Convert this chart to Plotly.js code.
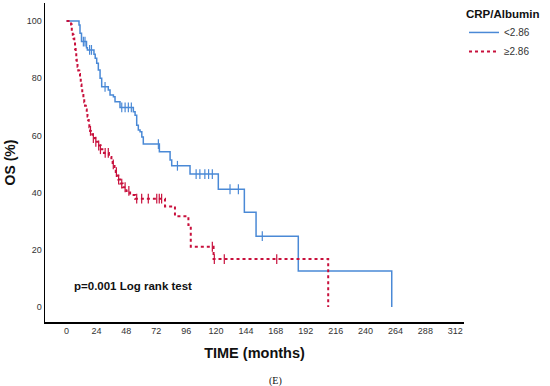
<!DOCTYPE html>
<html>
<head>
<meta charset="utf-8">
<script src="https://cdn.plot.ly/plotly-3.0.1.min.js"></script>
<style>html,body{margin:0;padding:0;background:#fff;}#chart{width:550px;height:386px;}</style>
</head>
<body>
<div id="chart"></div>
<script>
// Kaplan-Meier steps, low CRP/Albumin (<2.86)
var lowTime = [0, 10, 10.8, 12, 16, 16.7, 22, 23, 24.2, 25.5, 26.9, 28.2, 33.5, 34.9, 37.6, 38.9, 42.9, 53.6, 55, 56.3, 57.6, 59, 60.4, 61.6, 74.5, 83.1, 84.4, 99.1, 121.8, 142.7, 152.1, 186, 261];
var lowSurv = [100, 98.6, 95.7, 92.8, 90.7, 89.9, 88.4, 87, 85.2, 82.9, 80, 77, 75.9, 74.1, 73.5, 71.8, 69.8, 68.3, 67.1, 63.6, 61.9, 61.3, 59.5, 57, 54.3, 51.4, 49.4, 46.5, 41.2, 33.2, 24.8, 12.6, 0];
var lowCensTime = [13.5, 14.8, 18.5, 20, 30.9, 44.3, 47, 49.6, 52, 73.7, 89, 104, 107, 111, 114, 117, 131.2, 137.9, 157.1];
var lowCensSurv = [92.8, 92.8, 89.9, 89.9, 77, 69.8, 69.8, 69.8, 69.8, 57, 49.4, 46.5, 46.5, 46.5, 46.5, 46.5, 41.2, 41.2, 24.8];

// Kaplan-Meier steps, high CRP/Albumin (>=2.86)
var highTime = [0, 3.6, 4.2, 5, 5.6, 6.2, 6.8, 7.3, 7.8, 8.2, 8.8, 9.4, 10.2, 10.8, 11.4, 12, 12.6, 13.5, 14.2, 14.8, 15.5, 16.2, 16.8, 17.3, 17.8, 18.3, 18.9, 19.5, 21, 23, 25, 27.5, 30, 34, 36, 37, 38.5, 39.5, 40.5, 41.5, 43, 45, 48, 51, 55, 79, 87, 97.8, 99.7, 118, 210];
var highSurv = [100, 98.8, 96.4, 95.2, 93.9, 92.7, 90.2, 88.9, 86.5, 85.2, 84, 82.7, 81.5, 80.3, 77.8, 76.6, 74.1, 72.9, 71.6, 70.4, 69.1, 67.9, 66.6, 65.4, 64.1, 62.9, 61.6, 60.4, 59.1, 57.8, 56.5, 55.2, 53.9, 52.5, 51.2, 49.9, 48.6, 47.2, 45.9, 44.6, 43.2, 41.9, 40.6, 39.2, 37.9, 35.2, 31.8, 28.7, 21.1, 16.8, 0];
var highCensTime = [19.2, 21.5, 23.5, 25.8, 27.2, 31, 33.5, 37.5, 40, 41.8, 44.3, 47, 50, 56.3, 60.3, 65.6, 72.4, 74.4, 76.3, 117, 118.6, 126.6, 168.7];
var highCensSurv = [61.6, 59.1, 57.8, 56.5, 55.2, 53.9, 53.9, 49.9, 47.2, 44.6, 43.2, 41.9, 40.6, 37.9, 37.9, 37.9, 37.9, 37.9, 37.9, 21.1, 16.8, 16.8, 16.8];

var xTicks = [0, 24, 48, 72, 96, 120, 144, 168, 192, 216, 240, 264, 288, 312];
var yTicks = [0, 20, 40, 60, 80, 100];
var groupNames = ['<2.86', '≥2.86'];
var legendTitle = 'CRP/Albumin';
var xTitle = 'TIME (months)';
var yTitle = 'OS (%)';
var pText = 'p=0.001 Log rank test';
var panelLabel = '(E)';

var blue = '#4a89d6';
var red = '#c8103c';

var traces = [
  {x: lowTime, y: lowSurv, type: 'scatter', mode: 'lines', name: groupNames[0],
   line: {shape: 'hv', color: blue, width: 1.5}},
  {x: highTime, y: highSurv, type: 'scatter', mode: 'lines', name: groupNames[1],
   line: {shape: 'hv', color: red, width: 2, dash: 'dot'}},
  {x: lowCensTime, y: lowCensSurv, type: 'scatter', mode: 'markers', showlegend: false,
   marker: {symbol: 'line-ns', size: 7, line: {color: blue, width: 1.2}}},
  {x: highCensTime, y: highCensSurv, type: 'scatter', mode: 'markers', showlegend: false,
   marker: {symbol: 'line-ns', size: 7, line: {color: red, width: 1.2}}}
];

var layout = {
  width: 550, height: 386,
  margin: {l: 45, r: 86, t: 3, b: 64},
  paper_bgcolor: '#fff', plot_bgcolor: '#fff',
  font: {family: 'Arial, "Liberation Sans", sans-serif', color: '#222'},
  showlegend: true,
  legend: {
    x: 1.0, xanchor: 'left', y: 1.0, yanchor: 'top',
    font: {size: 10, color: '#333'},
    title: {text: '<b>' + legendTitle + '</b>', font: {size: 11.5, color: '#111'}},
    itemwidth: 30, tracegroupgap: 0, bgcolor: 'rgba(0,0,0,0)'
  },
  xaxis: {
    range: [-17.3, 319], tickvals: xTicks, ticks: '', showgrid: false, zeroline: false,
    showline: true, linecolor: '#000', linewidth: 1.5,
    tickfont: {size: 9, color: '#333'},
    title: {text: '<b>' + xTitle + '</b>', font: {size: 14.5, color: '#111'}, standoff: 12}
  },
  yaxis: {
    range: [-5.2, 106.3], tickvals: yTicks, ticks: '', showgrid: false, zeroline: false,
    showline: true, linecolor: '#000', linewidth: 1.5,
    tickfont: {size: 9, color: '#333'},
    title: {text: '<b>' + yTitle + '</b>', font: {size: 14, color: '#111'}, standoff: 8}
  },
  annotations: [
    {text: '<b>' + pText + '</b>', xref: 'paper', yref: 'paper', x: 0.211, y: 0.113,
     xanchor: 'center', yanchor: 'middle', showarrow: false, font: {size: 11.5, color: '#111'}},
    {text: panelLabel, xref: 'paper', yref: 'paper', x: 0.549, y: -0.185,
     xanchor: 'center', yanchor: 'middle', showarrow: false,
     font: {size: 10, family: '"Liberation Serif", "Times New Roman", serif', color: '#111'}}
  ]
};

Plotly.newPlot('chart', traces, layout, {displayModeBar: false, staticPlot: true});
</script>
</body>
</html>
